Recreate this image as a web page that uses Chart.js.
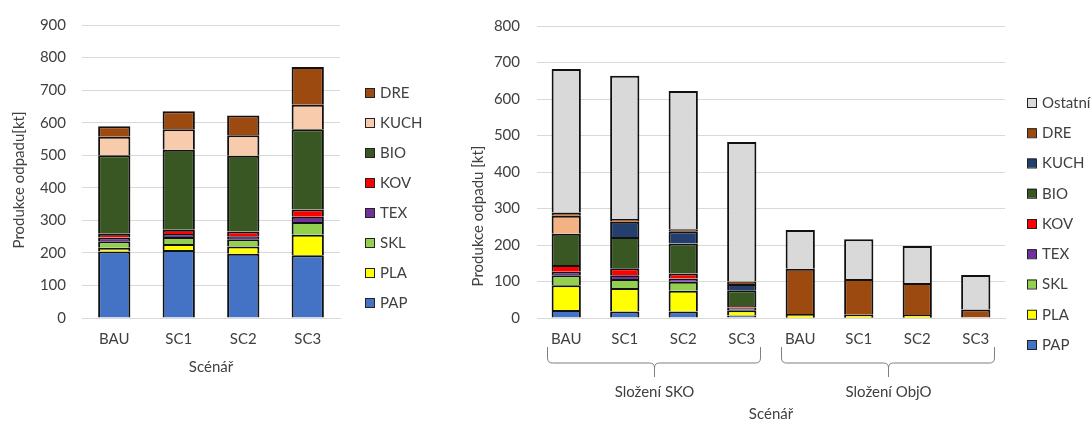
<!doctype html>
<html lang="cs">
<head>
<meta charset="utf-8">
<title>Produkce odpadu</title>
<script src="https://cdn.jsdelivr.net/npm/chart.js"></script>
<style>
  html, body { margin: 0; padding: 0; background: #fff; }
  .wrap { position: relative; width: 1092px; height: 423px; }
  #leftChart { position: absolute; left: 0; top: 0; }
  #rightChart { position: absolute; left: 450px; top: 0; }
</style>
</head>
<body>
<div class="wrap">
  <canvas id="leftChart" width="450" height="423"></canvas>
  <canvas id="rightChart" width="642" height="423"></canvas>
</div>

<script>
// ---- data: left chart (kt) ----
const scenarios = ['BAU', 'SC1', 'SC2', 'SC3'];
const pap  = [204, 209, 197, 193];
const pla  = [12, 18, 23, 63];
const skl  = [20, 22, 22, 39];
const tex  = [11, 9, 9, 16];
const kov  = [12, 13, 15, 22];
const bio  = [241, 246, 232, 247];
const kuch = [57, 63, 63, 75];
const dre  = [32, 55, 61, 116];

// ---- data: right chart (kt) ----
const rightCategories = ['BAU', 'SC1', 'SC2', 'SC3', 'BAU', 'SC1', 'SC2', 'SC3'];
const rightGroups = ['Složení SKO', 'Složení ObjO'];
const rPap  = [22, 18, 18, 7, 1, 1, 1, null];
const rPla  = [68, 64, 57, 14, 10, 8, 7, null];
const rSkl  = [27, 25, 24, 4, null, null, null, null];
const rTex  = [10, 10, 9, 4, null, null, null, null];
const rKov  = [18, 19, 14, 4, null, null, null, null];
const rBio  = [86, 86, 82, 43, null, null, null, null];
const rKuch = [49, 42, 34, 17, null, null, null, null];
const rDre  = [9, 7, 5, 7, 124, 98, 88, 23];
const rOst  = [393, 393, 379, 382, 106, 109, 101, 95];

const FONT = 'Lato, "Open Sans", sans-serif';
const TXT = '#404040';

// light grey fill with a faint texture, like the Excel one
function dotted() {
  const c = document.createElement('canvas');
  c.width = 4; c.height = 4;
  const g = c.getContext('2d');
  g.fillStyle = '#dadada'; g.fillRect(0, 0, 4, 4);
  g.fillStyle = '#d2d2d2'; g.fillRect(0, 0, 1, 1); g.fillRect(2, 2, 1, 1);
  return g.createPattern(c, 'repeat');
}

function ds(label, data, color) {
  return {
    label: label, data: data, backgroundColor: color,
    borderColor: '#111', borderWidth: 2,
    barPercentage: 0.5, categoryPercentage: 1
  };
}

// legend drawn on the right, top item = last dataset
const sideLegend = {
  id: 'sideLegend',
  afterDraw(chart, args, o) {
    const ctx = chart.ctx;
    const items = chart.data.datasets.slice().reverse();
    ctx.save();
    ctx.font = '15px ' + FONT;
    ctx.textBaseline = 'middle';
    items.forEach((d, i) => {
      const y = o.top + i * o.step;
      const bg = Array.isArray(d.backgroundColor) ? d.backgroundColor[d.backgroundColor.length - 1] : d.backgroundColor;
      ctx.fillStyle = bg;
      ctx.fillRect(o.x, y - 5, 9, 9);
      ctx.strokeStyle = '#222';
      ctx.lineWidth = 1;
      ctx.strokeRect(o.x + 0.5, y - 4.5, 9, 9);
      ctx.fillStyle = TXT;
      ctx.fillText(d.label, o.x + 15, y);
    });
    ctx.restore();
  }
};

const yTitle = {
  id: 'yTitle',
  afterDraw(chart, args, o) {
    const ctx = chart.ctx;
    ctx.save();
    ctx.translate(o.x, o.y);
    ctx.rotate(-Math.PI / 2);
    ctx.font = '15px ' + FONT;
    ctx.fillStyle = TXT;
    ctx.textAlign = 'center';
    ctx.textBaseline = 'middle';
    ctx.fillText(o.text, 0, 0);
    ctx.restore();
  }
};

// braces and group names under the category labels
const groupBraces = {
  id: 'groupBraces',
  afterDraw(chart, args, o) {
    if (!o.groups) return;
    const ctx = chart.ctx, x = chart.scales.x, b = chart.chartArea.bottom;
    const step = x.getPixelForValue(1) - x.getPixelForValue(0);
    const per = chart.data.labels.length / o.groups.length;
    const top = b + 29, mid = b + 45, end = b + 59, r = 5;
    ctx.save();
    ctx.strokeStyle = '#7f7f7f';
    ctx.lineWidth = 1;
    o.groups.forEach((g, i) => {
      const l = Math.round(x.getPixelForValue(i * per) - step / 2 + 10) + 0.5;
      const rt = Math.round(x.getPixelForValue(i * per + per - 1) + step / 2 - 11) + 0.5;
      const c = Math.round((l + rt) / 2) + 0.5;
      ctx.beginPath();
      ctx.moveTo(l, top);
      ctx.lineTo(l, mid - r);
      ctx.quadraticCurveTo(l, mid, l + r, mid);
      ctx.lineTo(c - r, mid);
      ctx.quadraticCurveTo(c, mid, c, mid + r);
      ctx.lineTo(c, end);
      ctx.moveTo(c, mid + r);
      ctx.quadraticCurveTo(c, mid, c + r, mid);
      ctx.lineTo(rt - r, mid);
      ctx.quadraticCurveTo(rt, mid, rt, mid - r);
      ctx.lineTo(rt, top);
      ctx.stroke();
      ctx.font = '15px ' + FONT;
      ctx.fillStyle = TXT;
      ctx.textAlign = 'center';
      ctx.textBaseline = 'middle';
      ctx.fillText(g, c, b + 74);
    });
    ctx.restore();
  }
};

function options(max, yWidth, xHeight, padding, tickPad) {
  return {
    responsive: false,
    animation: false,
    layout: { padding: padding },
    plugins: { legend: { display: false }, tooltip: { enabled: false } },
    scales: {
      x: {
        stacked: true,
        grid: { display: false, drawTicks: false },
        border: { color: '#d9d9d9' },
        ticks: { padding: 12, color: TXT, font: { family: FONT, size: 15 } },
        title: { display: true, text: 'Scénář', color: TXT, padding: 0, font: { family: FONT, size: 15 } },
        afterFit: s => { s.height = xHeight; }
      },
      y: {
        stacked: true, min: 0, max: max,
        grid: { color: '#d9d9d9', drawTicks: false },
        border: { display: false },
        ticks: { stepSize: 100, padding: tickPad, color: TXT, font: { family: FONT, size: 15 } },
        afterFit: s => { s.width = yWidth; }
      }
    }
  };
}

const brown = '#9c4a10', navy = '#233f6e', peach = '#f8cbad';

const leftOpts = options(900, 82, 58, { left: 0, right: 110, top: 20, bottom: 47 }, 16);
leftOpts.plugins.sideLegend = { x: 365, top: 93, step: 30 };
leftOpts.plugins.yTitle = { x: 19, y: 180, text: 'Produkce odpadu[kt]' };

new Chart(document.getElementById('leftChart'), {
  type: 'bar',
  data: {
    labels: scenarios,
    datasets: [
      ds('PAP', pap, '#4472c4'),
      ds('PLA', pla, '#ffff00'),
      ds('SKL', skl, '#92d050'),
      ds('TEX', tex, '#7030a0'),
      ds('KOV', kov, '#ff0000'),
      ds('BIO', bio, '#385723'),
      ds('KUCH', kuch, peach),
      ds('DRE', dre, brown)
    ]
  },
  options: leftOpts,
  plugins: [sideLegend, yTitle]
});

const rightOpts = options(800, 87, 105, { left: 0, right: 87, top: 20, bottom: 0 }, 17);
rightOpts.plugins.sideLegend = { x: 577, top: 103, step: 30.25 };
rightOpts.plugins.yTitle = { x: 28, y: 216, text: 'Produkce odpadu [kt]' };
rightOpts.plugins.groupBraces = { groups: rightGroups };

new Chart(document.getElementById('rightChart'), {
  type: 'bar',
  data: {
    labels: rightCategories,
    datasets: [
      ds('PAP', rPap, '#4472c4'),
      ds('PLA', rPla, '#ffff00'),
      ds('SKL', rSkl, '#92d050'),
      ds('TEX', rTex, '#7030a0'),
      ds('KOV', rKov, '#ff0000'),
      ds('BIO', rBio, '#385723'),
      ds('KUCH', rKuch, ['#f4b183', navy, navy, navy, navy, navy, navy, navy]),
      ds('DRE', rDre, brown),
      ds('Ostatní', rOst, dotted())
    ]
  },
  options: rightOpts,
  plugins: [sideLegend, yTitle, groupBraces]
});
</script>
</body>
</html>
